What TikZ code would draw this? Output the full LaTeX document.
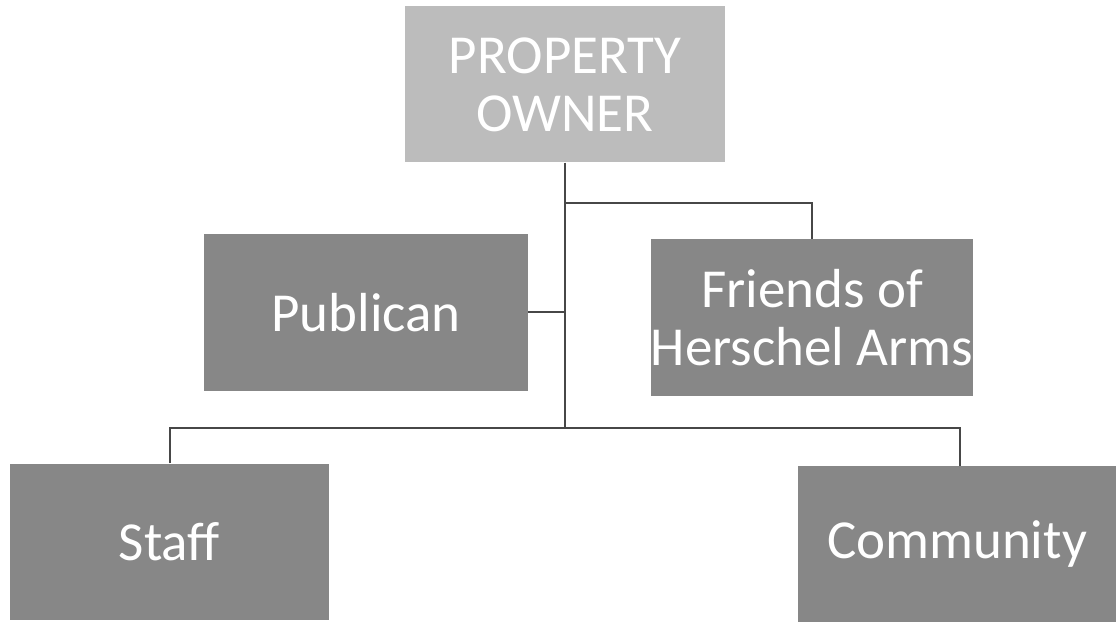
\documentclass[tikz,border=0pt]{standalone}
\usepackage{fontspec}
\setmainfont{Carlito}
\usepackage{xcolor}
\usepackage{tikz}
\usetikzlibrary{positioning}
\definecolor{OrgTop}{HTML}{BCBCBC}
\definecolor{OrgBox}{HTML}{878787}
\definecolor{OrgLine}{HTML}{474747}

\begin{document}
\begin{tikzpicture}[
  x=1pt,y=1pt,
  box/.style={fill=OrgBox,draw=none,text=white,align=center,inner sep=0pt,
    minimum width=320pt,minimum height=156pt,font=\fontsize{55}{58}\selectfont},
  topbox/.style={box,fill=OrgTop},
  link/.style={draw=OrgLine,line width=2pt}
]
\useasboundingbox (0,0) rectangle (1116,622);
\node[topbox] (owner) at (565,537.5) {PROPERTY\\OWNER};
\node[box,minimum width=324pt] (publican) at (366,309.5) {Publican};
\node[box,minimum width=322pt] (friends) at (812,304.5) {Friends of\\Herschel Arms};
\node[box,minimum width=319pt] (staff) at (169.5,80.5) {Staff};
\node[box,minimum width=318pt] (community) at (957,78) {Community};
\coordinate (fork) at (565,419);
\coordinate (split) at (565,194);
\draw[link] (owner.south) -- (split);
\draw[link] (fork) -| (friends.north);
\draw[link] (publican.east) -- (publican.east -| split);
\draw[link] (staff.north) |- (split) -| ([xshift=3pt]community.north);
\end{tikzpicture}
\end{document}
